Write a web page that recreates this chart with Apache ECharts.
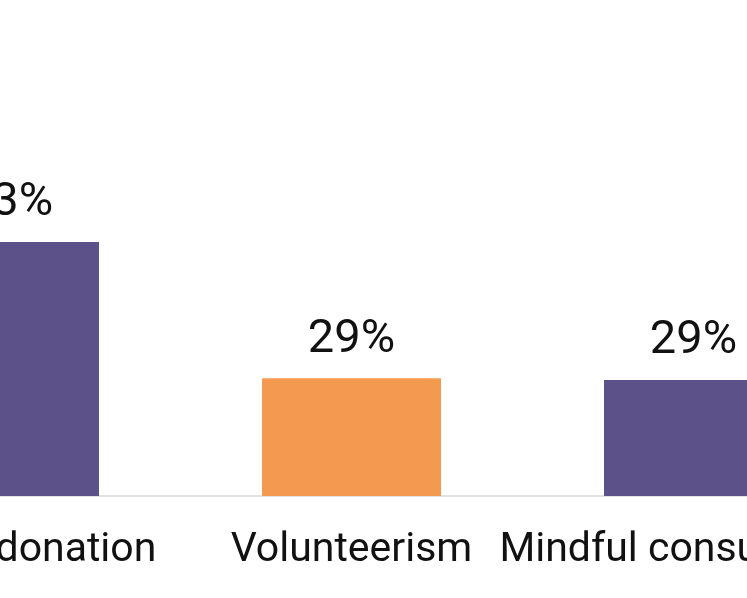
<!DOCTYPE html>
<html>
<head>
<meta charset="utf-8">
<script src="https://cdn.jsdelivr.net/npm/echarts@6/dist/echarts.min.js"></script>
<style>
  html, body { margin: 0; padding: 0; background: #fff; }
  #main { width: 747px; height: 598px; }
</style>
</head>
<body>
<div id="main"></div>
<script>
// data (the picture is a crop, first and last bars cut off)
var categories = ['Money donation', 'Volunteerism', 'Mindful consumption'];
var values = [63, 29.2, 28.8];
var barColors = ['#5d5189', '#f39a50', '#5d5189'];

var myChart = echarts.init(document.getElementById('main'));

var option = {
    animation: false,
    grid: {
        left: -161.5,
        right: -117.5,
        top: 93,
        bottom: 102,
        containLabel: false,
        outerBoundsMode: 'none'
    },
    xAxis: {
        type: 'category',
        data: categories,
        axisLine: { lineStyle: { color: '#d9d9d9', width: 1.5 } },
        axisTick: { show: false },
        axisLabel: {
            color: '#111',
            fontFamily: 'Roboto',
            fontSize: 41,
            margin: 34,
            interval: 0,
            hideOverlap: false
        }
    },
    yAxis: {
        type: 'value',
        min: 0,
        max: 100,
        show: false,
        splitLine: { show: false }
    },
    series: [{
        type: 'bar',
        barWidth: 179,
        data: values.map(function (v, i) {
            return { value: v, itemStyle: { color: barColors[i] } };
        }),
        label: {
            show: true,
            position: 'top',
            distance: 15,
            color: '#111',
            fontFamily: 'Roboto',
            fontSize: 47,
            formatter: function (p) {
                return Math.round(p.value) + '%';
            }
        }
    }]
};
myChart.setOption(option);
</script>
</body>
</html>
